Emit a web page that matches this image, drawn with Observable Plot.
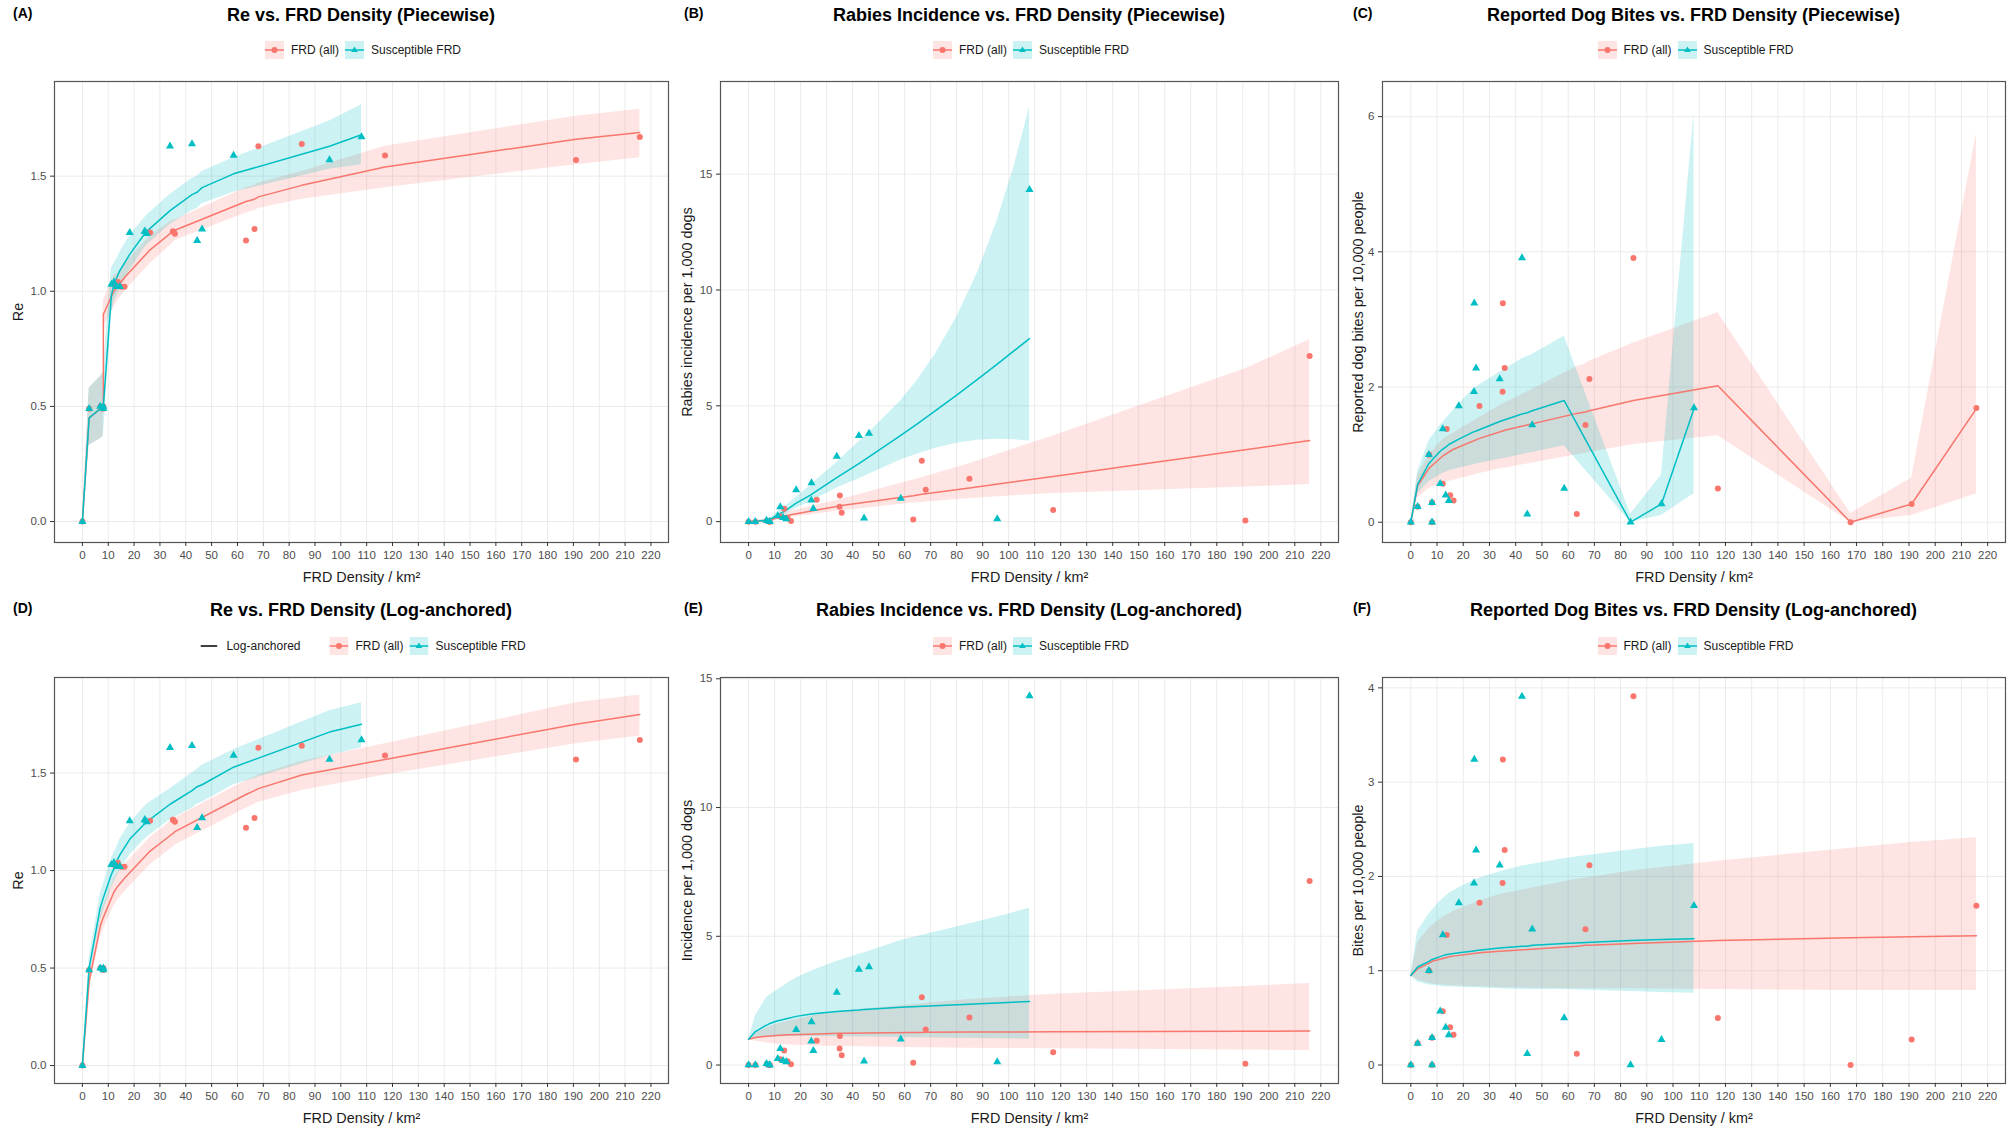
<!DOCTYPE html>
<html><head><meta charset="utf-8">
<script src="https://cdn.jsdelivr.net/npm/d3@7"></script>
<script src="https://cdn.jsdelivr.net/npm/@observablehq/plot@0.6"></script>
<style>
body{margin:0;background:#fff;}
#fig{position:relative;width:2008px;height:1136px;font-family:"Liberation Sans",Arial,sans-serif;color:#000;overflow:hidden;background:#fff;}
.tag{position:absolute;font-weight:bold;font-size:14px;line-height:1;transform:translateY(-50%);}
.title{position:absolute;font-weight:bold;font-size:18px;line-height:1;transform:translate(-50%,-50%);white-space:nowrap;color:#000;}
.legend{position:absolute;transform:translate(-50%,-50%);display:flex;align-items:center;font-size:12px;line-height:1;color:#1a1a1a;white-space:nowrap;}
.legend svg{display:block;}
.plot{position:absolute;}
</style></head><body><div id="fig"></div><script>
const RED = "#F8766D", TEAL = "#00BFC4";
const xTicks = [0,10,20,30,40,50,60,70,80,90,100,110,120,130,140,150,160,170,180,190,200,210,220];
const reTicks = [0, 0.5, 1.0, 1.5];
const rabiesTicks = [0, 5, 10, 15];
const bitesTicksC = [0, 2, 4, 6];
const bitesTicksF = [0, 1, 2, 3, 4];

// observed sites (21)
const densityAll = [0, 2.6, 7.0, 8.1, 8.1, 12.2, 13.7, 15.0, 16.3, 26.2, 35.1, 35.0, 35.8, 68.1, 84.9, 63.3, 66.6, 117.1, 167.7, 191.0, 215.7];
const densitySus = [0, 2.6, 6.9, 8.1, 8.1, 11.2, 12.2, 13.3, 14.5, 18.3, 24.2, 24.1, 24.9, 33.9, 42.4, 44.4, 46.3, 58.5, 83.8, 95.6, 108.0];
const reValues  = [0, 0.49, 0.50, 0.49, 0.50, 1.03, 1.04, 1.02, 1.02, 1.255, 1.26, 1.26, 1.25, 1.63, 1.64, 1.22, 1.27, 1.59, null, 1.57, 1.67];
const rabiesAll = [0, 0, 0.04, 0, 0, 0.22, 0.56, 0.15, 0.03, 0.94, 1.13, 0.64, 0.38, 1.38, 1.85, 0.09, 2.63, 0.50, null, 0.05, 7.15];
const rabiesSus = [0, 0, 0.05, 0, 0, 0.25, 0.64, 0.17, 0.12, 1.37, 1.67, 0.93, 0.56, 2.82, 3.71, 0.15, 3.81, 1.00, null, 0.12, 14.33];
const bites     = [0, 0.23, 1.00, 0.29, 0, 0.57, 1.38, 0.40, 0.32, 1.72, 3.24, 1.93, 2.28, 2.12, 3.91, 0.12, 1.44, 0.50, 0, 0.27, 1.69];

// fitted-curve x positions
const fitXAll      = [0, 2.6, 7.0, 8.1, 8.1, 12.2, 13.7, 15.0, 16.3, 26.2, 35.0, 35.1, 35.8, 63.3, 66.6, 68.1, 84.9, 117.1, 191.0, 215.7];
const fitXSus      = [0, 2.6, 6.9, 8.1, 8.1, 11.2, 12.2, 13.3, 14.5, 18.3, 24.1, 24.2, 24.9, 33.9, 42.4, 44.4, 46.3, 58.5, 95.6, 108.0];
const fitXAllBites = [0, 2.6, 7.0, 8.1, 8.1, 12.2, 13.7, 15.0, 16.3, 26.2, 35.0, 35.1, 35.8, 63.3, 66.6, 68.1, 84.9, 117.1, 167.7, 191.0, 215.7];
const fitXSusBites = [0, 2.6, 6.9, 8.1, 8.1, 11.2, 12.2, 13.3, 14.5, 18.3, 24.1, 24.2, 24.9, 33.9, 42.4, 44.4, 46.3, 58.5, 83.8, 95.6, 108.0];
const fitXSusB     = [0, 2.6, 6.9, 8.1, 11.2, 12.2, 13.3, 14.5, 18.3, 24.1, 24.9, 33.9, 42.4, 46.3, 58.5, 65, 72, 80, 88, 95.6, 102, 108];

// (A) Re piecewise
const fitA_all = [0, 0.45, 0.49, 0.50, 0.90, 1.00, 1.02, 1.04, 1.06, 1.18, 1.26, 1.26, 1.265, 1.39, 1.40, 1.41, 1.46, 1.54, 1.66, 1.69];
const loA_all  = [0, 0.33, 0.36, 0.37, 0.84, 0.93, 0.96, 0.98, 1.00, 1.12, 1.21, 1.21, 1.22, 1.34, 1.35, 1.36, 1.40, 1.45, 1.55, 1.58];
const hiA_all  = [0, 0.58, 0.63, 0.65, 0.96, 1.07, 1.08, 1.10, 1.12, 1.24, 1.31, 1.31, 1.31, 1.45, 1.46, 1.47, 1.52, 1.63, 1.76, 1.79];
const fitA_sus = [0, 0.45, 0.49, 0.50, 0.50, 0.98, 1.03, 1.06, 1.09, 1.16, 1.25, 1.25, 1.26, 1.35, 1.42, 1.43, 1.45, 1.51, 1.63, 1.68];
const loA_sus  = [0, 0.33, 0.36, 0.37, 0.37, 0.90, 0.95, 0.98, 1.01, 1.09, 1.19, 1.19, 1.20, 1.29, 1.35, 1.36, 1.38, 1.43, 1.53, 1.55];
const hiA_sus  = [0, 0.58, 0.63, 0.65, 0.65, 1.10, 1.12, 1.14, 1.17, 1.24, 1.32, 1.32, 1.33, 1.42, 1.49, 1.50, 1.52, 1.58, 1.74, 1.81];
// (B) rabies piecewise
const fitB_all = [0, 0.02, 0.05, 0.07, 0.07, 0.20, 0.25, 0.27, 0.30, 0.50, 0.68, 0.68, 0.70, 1.12, 1.18, 1.20, 1.45, 1.95, 3.10, 3.50];
const loB_all  = [0, 0.01, 0.03, 0.04, 0.04, 0.12, 0.15, 0.17, 0.19, 0.33, 0.46, 0.46, 0.47, 0.80, 0.83, 0.85, 1.00, 1.22, 1.50, 1.60];
const hiB_all  = [0, 0.05, 0.10, 0.12, 0.12, 0.33, 0.38, 0.41, 0.45, 0.72, 0.95, 0.95, 0.97, 1.80, 1.90, 1.95, 2.50, 3.70, 6.60, 7.85];
const fitB_sus = [0, 0.02, 0.06, 0.08, 0.30, 0.36, 0.42, 0.50, 0.80, 1.17, 1.23, 1.90, 2.50, 2.80, 3.72, 4.23, 4.80, 5.46, 6.14, 6.80, 7.37, 7.90];
const loB_sus  = [0, 0.01, 0.03, 0.05, 0.20, 0.25, 0.29, 0.35, 0.57, 0.87, 0.92, 1.45, 1.85, 2.05, 2.66, 2.92, 3.17, 3.38, 3.51, 3.56, 3.54, 3.48];
const hiB_sus  = [0, 0.05, 0.10, 0.12, 0.42, 0.50, 0.58, 0.70, 1.05, 1.58, 1.68, 2.55, 3.45, 3.85, 5.22, 6.12, 7.27, 8.82, 10.74, 13.0, 15.3, 17.9];
// (C) bites piecewise
const fitC_all = [0, 0.54, 0.80, 0.84, 0.84, 0.98, 1.02, 1.05, 1.08, 1.24, 1.35, 1.35, 1.36, 1.61, 1.63, 1.65, 1.80, 2.02, 0, 0.27, 1.68];
const loC_all  = [0, 0.36, 0.50, 0.52, 0.52, 0.58, 0.60, 0.61, 0.62, 0.72, 0.80, 0.80, 0.80, 1.00, 1.02, 1.03, 1.15, 1.28, 0, 0.10, 0.42];
const hiC_all  = [0, 0.70, 1.00, 1.05, 1.05, 1.22, 1.26, 1.29, 1.32, 1.55, 1.75, 1.75, 1.76, 2.30, 2.34, 2.38, 2.65, 3.10, 0.13, 0.65, 5.75];
const fitC_sus = [0, 0.56, 0.87, 0.92, 0.92, 1.05, 1.08, 1.11, 1.15, 1.23, 1.34, 1.34, 1.35, 1.49, 1.60, 1.62, 1.65, 1.80, 0, 0.27, 1.68];
const loC_sus  = [0, 0.42, 0.60, 0.63, 0.63, 0.70, 0.72, 0.74, 0.76, 0.80, 0.85, 0.85, 0.86, 0.93, 1.00, 1.02, 1.03, 1.13, 0, 0.10, 0.42];
const hiC_sus  = [0, 0.75, 1.20, 1.27, 1.27, 1.43, 1.48, 1.53, 1.58, 1.75, 1.98, 1.98, 2.00, 2.22, 2.42, 2.45, 2.48, 2.75, 0.12, 0.70, 6.05];
// (D) Re log-anchored
const fitD_all = [0, 0.43, 0.72, 0.76, 0.76, 0.89, 0.92, 0.94, 0.96, 1.10, 1.19, 1.19, 1.20, 1.39, 1.41, 1.42, 1.49, 1.57, 1.75, 1.80];
const loD_all  = [0, 0.39, 0.66, 0.70, 0.70, 0.82, 0.85, 0.87, 0.89, 1.03, 1.12, 1.12, 1.13, 1.32, 1.34, 1.35, 1.41, 1.49, 1.65, 1.69];
const hiD_all  = [0, 0.47, 0.78, 0.82, 0.82, 0.96, 0.99, 1.01, 1.03, 1.17, 1.26, 1.26, 1.27, 1.46, 1.48, 1.49, 1.56, 1.65, 1.86, 1.90];
const fitD_sus = [0, 0.50, 0.81, 0.86, 0.86, 0.98, 1.01, 1.05, 1.08, 1.16, 1.24, 1.24, 1.25, 1.34, 1.41, 1.43, 1.44, 1.53, 1.71, 1.75];
const loD_sus  = [0, 0.45, 0.74, 0.79, 0.79, 0.91, 0.94, 0.97, 1.00, 1.08, 1.16, 1.16, 1.17, 1.26, 1.32, 1.34, 1.35, 1.44, 1.59, 1.63];
const hiD_sus  = [0, 0.55, 0.88, 0.93, 0.93, 1.06, 1.09, 1.12, 1.16, 1.24, 1.33, 1.33, 1.34, 1.42, 1.50, 1.52, 1.54, 1.62, 1.82, 1.86];
// (E) rabies log-anchored
const fitE_all = [1.0, 1.07, 1.12, 1.13, 1.13, 1.16, 1.17, 1.18, 1.18, 1.21, 1.23, 1.23, 1.23, 1.26, 1.26, 1.27, 1.28, 1.29, 1.31, 1.32];
const loE_all  = [1.0, 0.92, 0.86, 0.85, 0.85, 0.81, 0.80, 0.79, 0.78, 0.74, 0.72, 0.72, 0.72, 0.68, 0.67, 0.67, 0.65, 0.63, 0.58, 0.56];
const hiE_all  = [1.0, 1.24, 1.45, 1.50, 1.50, 1.62, 1.66, 1.69, 1.72, 1.95, 2.08, 2.08, 2.10, 2.35, 2.38, 2.40, 2.55, 2.75, 3.05, 3.17];
const fitE_sus = [1.0, 1.30, 1.55, 1.61, 1.61, 1.72, 1.74, 1.77, 1.80, 1.89, 1.98, 1.98, 1.99, 2.08, 2.14, 2.16, 2.17, 2.24, 2.41, 2.47];
const loE_sus  = [1.0, 1.05, 1.08, 1.09, 1.09, 1.10, 1.10, 1.10, 1.10, 1.11, 1.11, 1.11, 1.11, 1.10, 1.09, 1.09, 1.09, 1.07, 1.02, 1.00];
const hiE_sus  = [1.0, 1.90, 2.62, 2.72, 2.72, 2.92, 2.98, 3.05, 3.15, 3.38, 3.64, 3.64, 3.68, 4.02, 4.30, 4.36, 4.42, 4.84, 5.75, 6.09];
// (F) bites log-anchored
const fitF_all = [0.95, 1.02, 1.08, 1.10, 1.10, 1.13, 1.14, 1.15, 1.155, 1.19, 1.21, 1.21, 1.21, 1.26, 1.27, 1.27, 1.29, 1.32, 1.35, 1.36, 1.37];
const loF_all  = [0.95, 0.90, 0.87, 0.86, 0.86, 0.85, 0.845, 0.84, 0.84, 0.83, 0.82, 0.82, 0.82, 0.81, 0.81, 0.81, 0.81, 0.80, 0.79, 0.79, 0.79];
const hiF_all  = [0.95, 1.30, 1.45, 1.48, 1.48, 1.57, 1.59, 1.61, 1.63, 1.74, 1.82, 1.82, 1.82, 1.97, 1.98, 1.99, 2.06, 2.16, 2.30, 2.36, 2.41];
const fitF_sus = [0.95, 1.04, 1.10, 1.12, 1.12, 1.15, 1.16, 1.17, 1.175, 1.19, 1.21, 1.21, 1.215, 1.24, 1.26, 1.26, 1.27, 1.29, 1.32, 1.33, 1.34];
const loF_sus  = [0.95, 0.88, 0.85, 0.845, 0.845, 0.835, 0.83, 0.83, 0.83, 0.825, 0.82, 0.82, 0.82, 0.81, 0.80, 0.80, 0.80, 0.80, 0.78, 0.77, 0.76];
const hiF_sus  = [0.95, 1.42, 1.60, 1.64, 1.64, 1.74, 1.76, 1.79, 1.82, 1.88, 1.96, 1.96, 1.97, 2.05, 2.11, 2.12, 2.13, 2.19, 2.28, 2.32, 2.35];

const pts = (xs, ys) => xs.map((x, i) => ({x, y: ys[i]})).filter(d => d.y != null);
const fit = (xs, y, lo, hi) => xs.map((x, i) => ({x, y: y[i], lo: lo[i], hi: hi[i]}));

const panels = [
  {tag: "(A)", col: 0, row: 0, title: "Re vs. FRD Density (Piecewise)", yLabel: "Re", yDomain: [-0.091, 1.911], yTicks: reTicks, fmt: ".1f",
   all: pts(densityAll, reValues), sus: pts(densitySus, reValues),
   fAll: fit(fitXAll, fitA_all, loA_all, hiA_all), fSus: fit(fitXSus, fitA_sus, loA_sus, hiA_sus), logKey: false},
  {tag: "(B)", col: 1, row: 0, title: "Rabies Incidence vs. FRD Density (Piecewise)", yLabel: "Rabies incidence per 1,000 dogs", yDomain: [-0.9, 19.0], yTicks: rabiesTicks, fmt: "d",
   all: pts(densityAll, rabiesAll), sus: pts(densitySus, rabiesSus),
   fAll: fit(fitXAll, fitB_all, loB_all, hiB_all), fSus: fit(fitXSusB, fitB_sus, loB_sus, hiB_sus), logKey: false},
  {tag: "(C)", col: 2, row: 0, title: "Reported Dog Bites vs. FRD Density (Piecewise)", yLabel: "Reported dog bites per 10,000 people", yDomain: [-0.30, 6.52], yTicks: bitesTicksC, fmt: "d",
   all: pts(densityAll, bites), sus: pts(densitySus, bites),
   fAll: fit(fitXAllBites, fitC_all, loC_all, hiC_all), fSus: fit(fitXSusBites, fitC_sus, loC_sus, hiC_sus), logKey: false},
  {tag: "(D)", col: 0, row: 1, title: "Re vs. FRD Density (Log-anchored)", yLabel: "Re", yDomain: [-0.092, 1.99], yTicks: reTicks, fmt: ".1f",
   all: pts(densityAll, reValues), sus: pts(densitySus, reValues),
   fAll: fit(fitXAll, fitD_all, loD_all, hiD_all), fSus: fit(fitXSus, fitD_sus, loD_sus, hiD_sus), logKey: true},
  {tag: "(E)", col: 1, row: 1, title: "Rabies Incidence vs. FRD Density (Log-anchored)", yLabel: "Incidence per 1,000 dogs", yDomain: [-0.717, 15.05], yTicks: rabiesTicks, fmt: "d",
   all: pts(densityAll, rabiesAll), sus: pts(densitySus, rabiesSus),
   fAll: fit(fitXAll, fitE_all, loE_all, hiE_all), fSus: fit(fitXSus, fitE_sus, loE_sus, hiE_sus), logKey: false},
  {tag: "(F)", col: 2, row: 1, title: "Reported Dog Bites vs. FRD Density (Log-anchored)", yLabel: "Bites per 10,000 people", yDomain: [-0.196, 4.11], yTicks: bitesTicksF, fmt: "d",
   all: pts(densityAll, bites), sus: pts(densitySus, bites),
   fAll: fit(fitXAllBites, fitF_all, loF_all, hiF_all), fSus: fit(fitXSusBites, fitF_sus, loF_sus, hiF_sus), logKey: false}
];

const cols = [
  {left: 0, plotL: 54, plotR: 668, tagX: 13, yLabOff: 41.5},
  {left: 669, plotL: 720, plotR: 1338, tagX: 684, yLabOff: 38.5},
  {left: 1338, plotL: 1382, plotR: 2005, tagX: 1353, yLabOff: 30}
];
const rows = [
  {plotT: 81, plotB: 542, titleY: 14.5, legendY: 50.2, tagY: 13},
  {plotT: 677, plotB: 1083, titleY: 609.7, legendY: 645.8, tagY: 608}
];

const fig = document.getElementById("fig");
function addDiv(cls, html, x, y) {
  const d = document.createElement("div");
  d.className = cls; d.innerHTML = html;
  d.style.left = x + "px"; d.style.top = y + "px";
  fig.appendChild(d); return d;
}
function key(color, symbol) {
  const sym = symbol === "circle"
    ? `<circle cx="9.5" cy="9" r="3" fill="${color}"/>`
    : `<path d="M9.5,5.4L12.8,11.1L6.2,11.1Z" fill="${color}"/>`;
  return `<svg width="19" height="18"><rect width="19" height="18" fill="${color}" fill-opacity="0.2"/><line x1="0" x2="19" y1="9" y2="9" stroke="${color}" stroke-width="1.5"/>${sym}</svg>`;
}
function legendHtml(logKey) {
  let h = "";
  if (logKey) {
    h += `<svg width="17" height="18"><line x1="0" x2="17" y1="9" y2="9" stroke="#000" stroke-width="1.6"/></svg><span style="margin-left:9px;margin-right:29px">Log-anchored</span>`;
  }
  h += key(RED, "circle") + `<span style="margin-left:7px;margin-right:6px">FRD (all)</span>`;
  h += key(TEAL, "triangle") + `<span style="margin-left:7px">Susceptible FRD</span>`;
  return h;
}

const mTop = 4, mBottom = 48;
for (const p of panels) {
  const c = cols[p.col], r = rows[p.row];
  const cx = (c.plotL + c.plotR) / 2;
  addDiv("tag", p.tag, c.tagX, r.tagY);
  addDiv("title", p.title, cx, r.titleY);
  addDiv("legend", legendHtml(p.logKey), cx + 2, r.legendY);

  const mLeft = c.plotL - c.left;
  const svgRight = Math.min(c.plotR + 3, 2008);
  const mRight = svgRight - c.plotR;
  const width = svgRight - c.left;
  const height = (r.plotB - r.plotT) + mTop + mBottom;

  const chart = Plot.plot({
    width, height,
    marginLeft: mLeft, marginRight: mRight, marginTop: mTop, marginBottom: mBottom,
    x: {domain: [-10.8, 226.8]},
    y: {domain: p.yDomain},
    style: {fontFamily: '"Liberation Sans", Arial, sans-serif', fontSize: "11.5px", background: "transparent", overflow: "visible"},
    marks: [
      Plot.gridX(xTicks, {stroke: "#ebebeb", strokeOpacity: 1, strokeWidth: 1}),
      Plot.gridY(p.yTicks, {stroke: "#ebebeb", strokeOpacity: 1, strokeWidth: 1}),
      Plot.areaY(p.fAll, {x: "x", y1: "lo", y2: "hi", fill: RED, fillOpacity: 0.2}),
      Plot.areaY(p.fSus, {x: "x", y1: "lo", y2: "hi", fill: TEAL, fillOpacity: 0.2}),
      Plot.line(p.fAll, {x: "x", y: "y", stroke: RED, strokeWidth: 1.5}),
      Plot.line(p.fSus, {x: "x", y: "y", stroke: TEAL, strokeWidth: 1.5}),
      Plot.dot(p.all, {x: "x", y: "y", r: 3.0, fill: RED, symbol: "circle"}),
      Plot.dot(p.sus, {x: "x", y: "y", r: 3.0, fill: TEAL, symbol: "triangle"}),
      Plot.frame({stroke: "#555", strokeWidth: 1.2}),
      Plot.axisX(xTicks, {tickSize: 4, tickPadding: 4.5, fill: "#4d4d4d", stroke: "#333", label: null}),
      Plot.axisY(p.yTicks, {tickSize: 4, tickPadding: 4, fill: "#4d4d4d", stroke: "#333", tickFormat: d3.format(p.fmt), label: null}),
      Plot.axisX([], {label: "FRD Density / km²", labelAnchor: "center", labelOffset: 39.5, labelArrow: false, fontSize: 14.4, fill: "#1a1a1a", tickSize: 0}),
      Plot.axisY([], {label: p.yLabel, labelAnchor: "center", labelOffset: c.yLabOff, labelArrow: false, fontSize: 14.4, fill: "#1a1a1a", tickSize: 0})
    ]
  });
  chart.classList.add("plot");
  chart.style.position = "absolute";
  chart.style.left = c.left + "px";
  chart.style.top = (r.plotT - mTop) + "px";
  chart.style.maxWidth = "none";
  fig.appendChild(chart);
}
</script></body></html>
